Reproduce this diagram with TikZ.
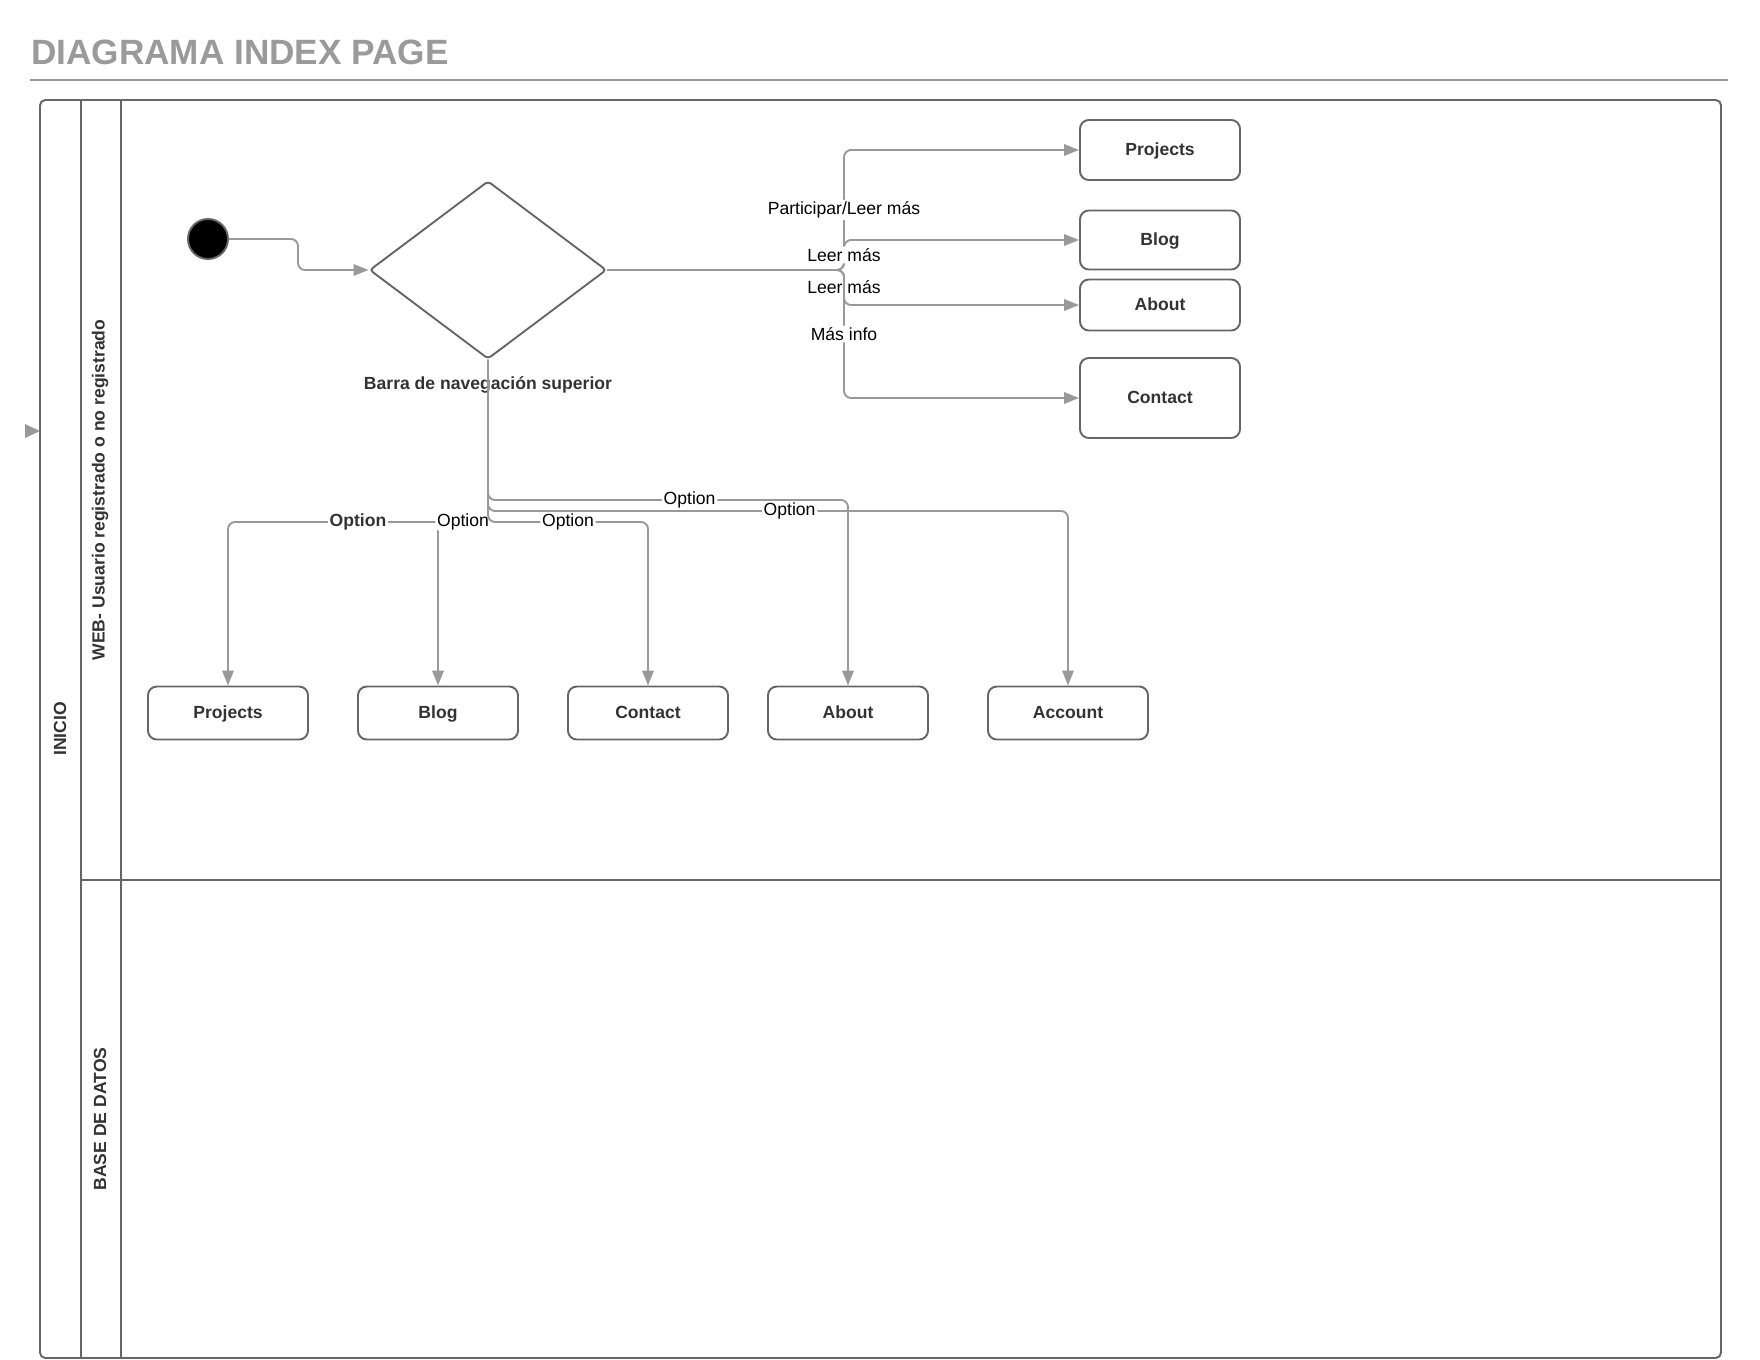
\documentclass[tikz,border=0pt]{standalone}
\usepackage{fontspec}
\setmainfont{Liberation Sans}
\usetikzlibrary{shapes.geometric,arrows.meta}

\definecolor{linegray}{HTML}{999999}
\definecolor{boxgray}{HTML}{666666}
\definecolor{titlegray}{HTML}{9A9A9A}
\definecolor{textgray}{HTML}{333333}

\tikzset{
  pagebox/.style={draw=boxgray, line width=1.1pt, rounded corners=5pt, fill=white,
    minimum width=32mm, minimum height=10.6mm, inner sep=0pt, font=\bfseries, text=textgray,
    text height=1.6ex, text depth=.5ex},
  flow/.style={draw=linegray, line width=1.1pt, rounded corners=4pt,
    -{Triangle[length=8.5pt,width=6.5pt]}},
  optlbl/.style={fill=white, inner sep=1pt, text=black},
  lanelbl/.style={rotate=90, font=\bfseries, text=textgray},
}

\begin{document}
\begin{tikzpicture}[x=0.2mm, y=-0.2mm]

\useasboundingbox (0,0) rectangle (1760,1360);

\node [anchor=base west, inner sep=0pt, text=titlegray,
font={\bfseries\fontsize{20}{24}\selectfont}] (title) at (31,65) {DIAGRAMA INDEX PAGE};
\draw [titlegray, line width=1.1pt] (30,80) -- (1728,80);

% pool and lanes
\draw [boxgray, line width=1.1pt, rounded corners=3pt] (40,100) rectangle (1721,1358);
\draw [boxgray, line width=1.1pt] (81,100) -- (81,1358);
\draw [boxgray, line width=1.1pt] (121,100) -- (121,1358);
\draw [boxgray, line width=1.1pt] (81,880) -- (1721,880);
\fill [linegray] (25,424) -- (40,431) -- (25,438) -- cycle;

\node [lanelbl] (linicio) at (60,729) {INICIO};
\node [lanelbl] (lweb) at (100,490) {WEB- Usuario registrado o no registrado};
\node [lanelbl] (ldb) at (100,1119) {BASE DE DATOS};

\node [circle, fill=black, draw=boxgray, line width=1.1pt, minimum size=8mm,
inner sep=0pt] (start) at (208,239) {};

\node [diamond, draw=boxgray, line width=1.1pt, rounded corners=2pt,
minimum width=47.4mm, minimum height=35.6mm, inner sep=0pt] (nav) at (488,270) {};
\node [font=\bfseries, text=textgray] (navlbl) at (488,385) {Barra de navegación superior};

\node [pagebox, minimum height=12mm] (rproj) at (1160,150) {Projects};
\node [pagebox, minimum height=11.8mm] (rblog) at (1160,240) {Blog};
\node [pagebox, minimum height=10.2mm] (rabout) at (1160,305) {About};
\node [pagebox, minimum height=16mm] (rcont) at (1160,398) {Contact};

\node [pagebox] (bproj) at (228,713) {Projects};
\node [pagebox] (bblog) at (438,713) {Blog};
\node [pagebox] (bcont) at (648,713) {Contact};
\node [pagebox] (babout) at (848,713) {About};
\node [pagebox] (bacc) at (1068,713) {Account};

\draw [flow] (start.east) -- (298,239) -- (298,270) -- (nav.west);

% top menu links
\draw [flow] (nav.east) -- (844,270) -- node [optlbl] (l1) {Participar/Leer más} (844,150) -- (rproj.west);
\draw [flow] (nav.east) -- (844,270) -- node [optlbl] (l2) {Leer más} (844,240) -- (rblog.west);
\draw [flow] (nav.east) -- (844,270) -- node [optlbl] (l3) {Leer más} (844,305) -- (rabout.west);
\draw [flow] (nav.east) -- (844,270) -- node [optlbl] (l4) {Más info} (844,398) -- (rcont.west);

% options
\draw [flow] (nav.south) -- (488,500) -- node [optlbl, pos=.56] (o1) {Option} (848,500) -- (babout.north);
\draw [flow] (nav.south) -- (488,511) -- node [optlbl, pos=.52] (o2) {Option} (1068,511) -- (bacc.north);
\draw [flow] (nav.south) -- (488,522) -- node [optlbl, font=\bfseries, text=textgray] (o3) {Option} (228,522) -- (bproj.north);
\draw [flow] (nav.south) -- (488,522) -- node [optlbl] (o4) {Option} (438,522) -- (bblog.north);
\draw [flow] (nav.south) -- (488,522) -- node [optlbl] (o5) {Option} (648,522) -- (bcont.north);

\end{tikzpicture}
\end{document}
